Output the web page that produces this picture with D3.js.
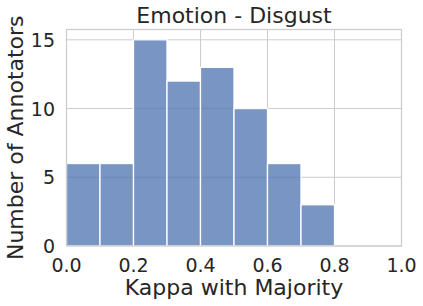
<!DOCTYPE html>
<html><head><meta charset="utf-8">
<script src="https://cdn.jsdelivr.net/npm/d3@7"></script>
<style>body{margin:0;background:#fff}svg{display:block}</style>
</head><body>
<script>
const binStarts = [0.0, 0.1, 0.2, 0.3, 0.4, 0.5, 0.6, 0.7];
const binWidth = 0.1;
const counts = [6, 6, 15, 12, 13, 10, 6, 3];
const xTicks = [0.0, 0.2, 0.4, 0.6, 0.8, 1.0];
const yTicks = [0, 5, 10, 15];
const title = "Emotion - Disgust";
const xLabel = "Kappa with Majority";
const yLabel = "Number of Annotators";

const W = 423, H = 306;
const m = {left: 66.5, right: 401.5, top: 29.5, bottom: 246};
const svg = d3.select("body").append("svg").attr("width", W).attr("height", H)
  .style("font-family", "DejaVu Sans");
const x = d3.scaleLinear().domain([0, 1]).range([m.left, m.right]);
const y = d3.scaleLinear().domain([0, 15.75]).range([m.bottom, m.top]);

// grid
svg.append("g").selectAll("line").data(xTicks).join("line")
  .attr("x1", d => x(d)).attr("x2", d => x(d)).attr("y1", m.top).attr("y2", m.bottom)
  .attr("stroke", "#cccccc").attr("stroke-width", 1);
svg.append("g").selectAll("line").data(yTicks).join("line")
  .attr("x1", m.left).attr("x2", m.right).attr("y1", d => y(d)).attr("y2", d => y(d))
  .attr("stroke", "#cccccc").attr("stroke-width", 1);

// bars
svg.append("g").selectAll("rect").data(binStarts).join("rect")
  .attr("x", d => x(d)).attr("width", d => x(d + binWidth) - x(d))
  .attr("y", (d, i) => y(counts[i])).attr("height", (d, i) => y(0) - y(counts[i]))
  .attr("fill", "#4c72b0").attr("fill-opacity", 0.75)
  .attr("stroke", "#ffffff").attr("stroke-width", 1.3);

// spines
svg.append("rect").attr("x", m.left).attr("y", m.top)
  .attr("width", m.right - m.left).attr("height", m.bottom - m.top)
  .attr("fill", "none").attr("stroke", "#cccccc").attr("stroke-width", 1.25);

// ticks labels
svg.append("g").selectAll("text").data(xTicks).join("text")
  .attr("x", d => x(d)).attr("y", m.bottom + 26)
  .attr("text-anchor", "middle").attr("font-size", 19).attr("fill", "#262626")
  .text(d => d.toFixed(1));
svg.append("g").selectAll("text").data(yTicks).join("text")
  .attr("x", m.left - 11.5).attr("y", d => y(d) + 7)
  .attr("text-anchor", "end").attr("font-size", 19).attr("fill", "#262626")
  .text(d => d);

svg.append("text").attr("x", (m.left + m.right) / 2).attr("y", 23)
  .attr("text-anchor", "middle").attr("font-size", 22).attr("fill", "#262626").text(title);
svg.append("text").attr("x", (m.left + m.right) / 2).attr("y", 295)
  .attr("text-anchor", "middle").attr("font-size", 22).attr("fill", "#262626").text(xLabel);
svg.append("text").attr("transform", `translate(23,${(m.top + m.bottom) / 2}) rotate(-90)`)
  .attr("text-anchor", "middle").attr("font-size", 22).attr("fill", "#262626").text(yLabel);
</script>
</body></html>
